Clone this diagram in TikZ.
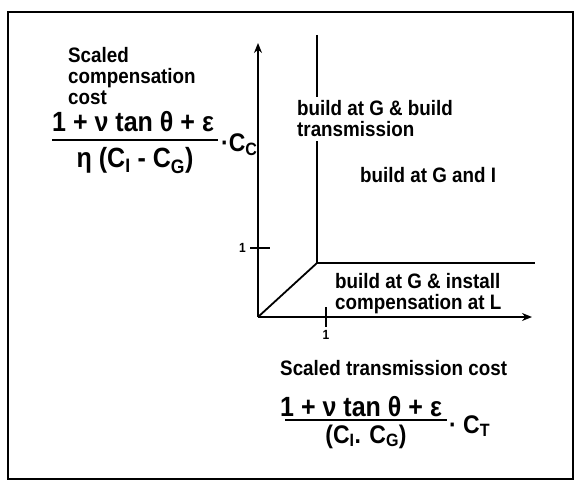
\documentclass[tikz,border=0pt]{standalone}
\usepackage{fontspec}
\setmainfont{Liberation Sans}[FakeStretch=0.9]
\usetikzlibrary{arrows.meta}

\tikzset{
  label/.style={font=\bfseries\fontsize{20.9}{21}\selectfont, align=left, inner sep=0pt, anchor=base west},
  frac/.style={font=\bfseries\fontsize{27.8}{30}\selectfont, inner sep=0pt},
  small frac/.style={frac, font=\bfseries\fontsize{25.5}{28}\selectfont},
  ticklabel/.style={font=\bfseries\fontsize{13.3}{15}\selectfont, inner sep=0pt},
  axis/.style={line width=2.3pt, -{Stealth[length=10pt,width=8pt]}},
  border/.style={line width=1.8pt},
}

\begin{document}
\begin{tikzpicture}[x=1pt,y=-1pt]
  \useasboundingbox (0,0) rectangle (578,481);
  % frame
  \draw[line width=2.8pt] (8,12) rectangle (573,479);

  % axes
  \coordinate (O) at (258,317);
  \coordinate (ytop) at (258,43);
  \coordinate (xend) at (532,317);
  \draw[axis] (O) -- (ytop);
  \draw[axis] (O) -- (xend);

  % ticks at 1
  \draw[line width=1.6pt] (250,248) -- (270,248);
  \draw[line width=1.6pt] (326,307) -- (326,327);
  \node[ticklabel, anchor=east] (ty) at (246,248) {1};
  \node[ticklabel, anchor=north] (tx) at (326,330) {1};

  % region borders
  \coordinate (K) at (317,263);
  \coordinate (vtop) at (317,35);
  \coordinate (hend) at (535,263);
  \draw[border] (vtop) -- (K) -- (hend);
  \draw[border] (O) -- (K);

  % region labels (base = last line)
  \node[label, fill=white, inner sep=4pt] (regA) at (293,137) {build at G \& build\\transmission};
  \node[label] (regB) at (360,183) {build at G and I};
  \node[label] (regC) at (335,309) {build at G \& install\\compensation at L};

  % vertical axis label
  \node[label] (ylab) at (68,105) {Scaled\\compensation\\cost};
  \node[frac, anchor=base west] (num1) at (52,132) {1 + ν tan θ + ε};
  \draw[line width=1.3pt] (52,140) -- (218,140);
  \node[frac, anchor=base] (den1) at (135,168) {η (C\textsubscript{I} - C\textsubscript{G})};
  \node[small frac, anchor=base west] (cc) at (221,152) {·C\textsubscript{C}};

  % horizontal axis label
  \node[label] (xlab) at (280,375) {Scaled transmission cost};
  \node[frac, anchor=base west] (num2) at (280,416) {1 + ν tan θ + ε};
  \draw[line width=1.3pt] (285,420) -- (447,420);
  \node[small frac, anchor=base] (den2) at (366,443) {(C\textsubscript{I}. C\textsubscript{G})};
  \node[small frac, anchor=base west] (ct) at (449,433) {· C\textsubscript{T}};
\end{tikzpicture}
\end{document}
